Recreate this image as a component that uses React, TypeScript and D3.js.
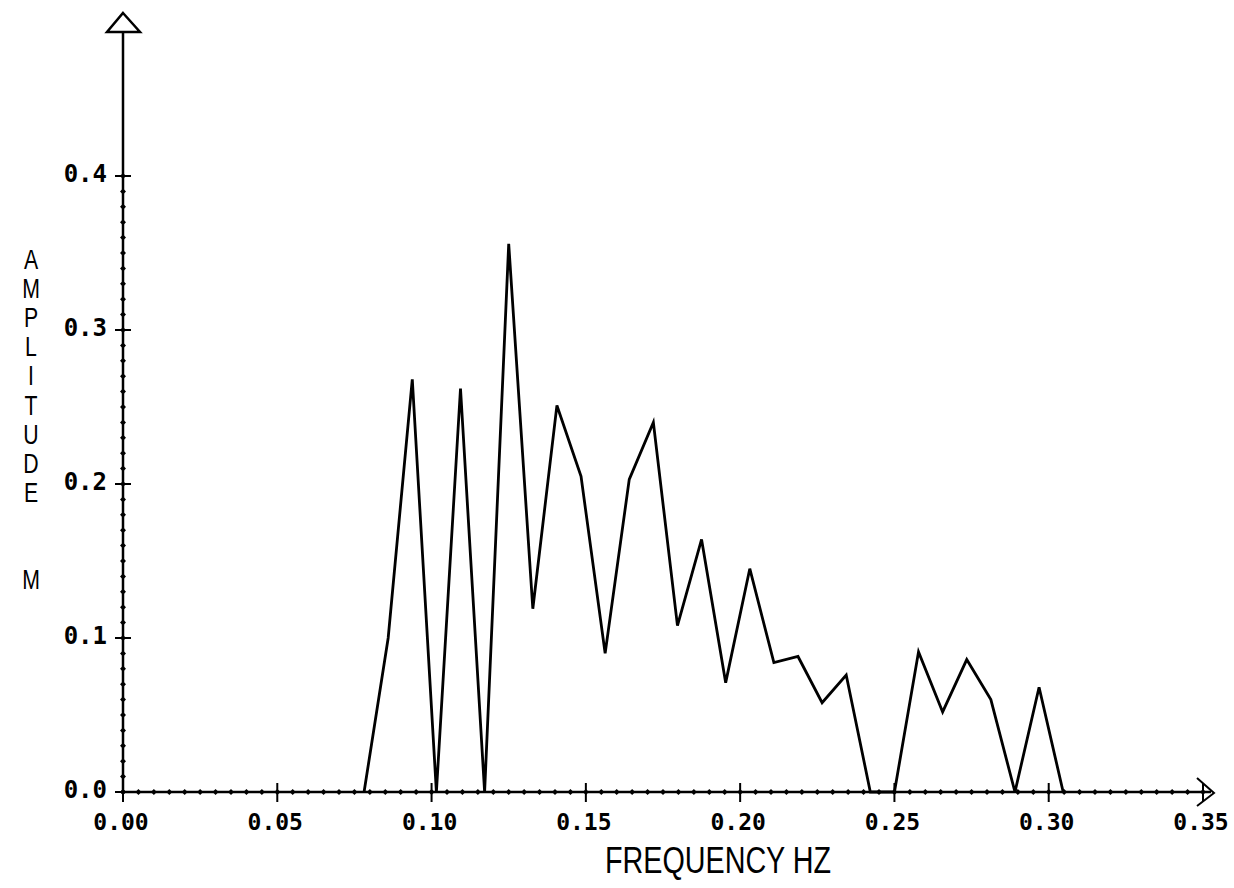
import React from "react";
import * as d3 from "d3";

// Spectrum bins: frequency resolution of 1/128 Hz, bins 10..39
const binIndex: number[] = [
  10, 11, 12, 13, 14, 15, 16, 17, 18, 19, 20, 21, 22, 23, 24,
  25, 26, 27, 28, 29, 30, 31, 32, 33, 34, 35, 36, 37, 38, 39,
];
const amplitude: number[] = [
  0.0, 0.1, 0.268, 0.0, 0.262, 0.0, 0.356, 0.119, 0.251, 0.205, 0.09, 0.203, 0.24, 0.108, 0.164,
  0.071, 0.145, 0.084, 0.088, 0.058, 0.076, 0.0, 0.0, 0.091, 0.052, 0.086, 0.06, 0.0, 0.068, 0.0,
];
const binWidthHz = 1 / 128;

const xMajorTicks: number[] = [0, 0.05, 0.1, 0.15, 0.2, 0.25, 0.3, 0.35];
const xTickLabels: string[] = ["0.00", "0.05", "0.10", "0.15", "0.20", "0.25", "0.30", "0.35"];
const yMajorTicks: number[] = [0, 0.1, 0.2, 0.3, 0.4];
const yTickLabels: string[] = ["0.0", "0.1", "0.2", "0.3", "0.4"];
const yTitle = "AMPLITUDE  M";

const W = 1234;
const H = 888;

export default function App() {
  const x = d3.scaleLinear().domain([0, 0.35]).range([123, 1203]);
  const y = d3.scaleLinear().domain([0, 0.4]).range([792, 176]);

  const pts: [number, number][] = binIndex.map((k, i) => [k * binWidthHz, amplitude[i]]);
  const line = d3
    .line<[number, number]>()
    .x((d) => x(d[0]))
    .y((d) => y(d[1]));

  const xMinor = d3.range(0, 71).map((i) => i * 0.005);
  const yMinor = d3.range(0, 41).map((i) => i * 0.01);

  const diamond = (cx: number, cy: number, r: number) =>
    `M${cx},${cy - r}L${cx + r},${cy}L${cx},${cy + r}L${cx - r},${cy}Z`;

  const x0 = x(0);
  const y0 = y(0);
  const yTop = y(0.5);
  const tickFont = "'DejaVu Sans Mono', monospace";

  return (
    <svg
      width={W}
      height={H}
      style={{ position: "absolute", left: 0, top: 0, background: "#fff" }}
    >
      <rect width={W} height={H} fill="#fff" />

      {/* axes */}
      <line x1={x0} y1={y0} x2={x(0.35) + 8} y2={y0} stroke="#000" strokeWidth={2.5} />
      <line x1={x0} y1={y0} x2={x0} y2={yTop + 8} stroke="#000" strokeWidth={2.5} />

      {/* arrow heads */}
      <path
        d={`M${x0},${13}L${x0 + 17},${32}L${x0 - 16},${32}Z`}
        fill="#fff"
        stroke="#000"
        strokeWidth={2.5}
      />
      <path
        d={`M${x(0.35) - 6},${y0 - 14}L${x(0.35) + 11},${y0 + 1}L${x(0.35) - 6},${y0 + 14}`}
        fill="none"
        stroke="#000"
        strokeWidth={2}
      />

      {/* minor ticks */}
      {xMinor.map((v, i) => (
        <path key={"xm" + i} d={diamond(x(v), y0, 3)} fill="#000" />
      ))}
      {yMinor.map((v, i) => (
        <path key={"ym" + i} d={diamond(x0, y(v), 3)} fill="#000" />
      ))}

      {/* major ticks */}
      {xMajorTicks.map((v, i) => (
        <line key={"xM" + i} x1={x(v)} x2={x(v)} y1={y0 - 9} y2={y0 + 10} stroke="#000" strokeWidth={2} />
      ))}
      {yMajorTicks.map((v, i) => (
        <line key={"yM" + i} x1={x0 - 8} x2={x0 + 8} y1={y(v)} y2={y(v)} stroke="#000" strokeWidth={2} />
      ))}

      {/* tick labels */}
      {xMajorTicks.map((v, i) => (
        <text
          key={"xl" + i}
          x={x(v) - 2}
          y={y0 + 38}
          textAnchor="middle"
          fontFamily={tickFont}
          fontWeight="bold"
          fontSize={23}
          fill="#000"
        >
          {xTickLabels[i]}
        </text>
      ))}
      {yMajorTicks.map((v, i) => (
        <text
          key={"yl" + i}
          x={x0 - 16}
          y={y(v) + 6}
          textAnchor="end"
          fontFamily={tickFont}
          fontWeight="bold"
          fontSize={24}
          fill="#000"
        >
          {yTickLabels[i]}
        </text>
      ))}

      {/* axis titles */}
      <text
        x={718}
        y={873}
        textAnchor="middle"
        fontFamily="'Liberation Sans', sans-serif"
        fontSize={36}
        textLength={226}
        lengthAdjust="spacingAndGlyphs"
        fill="#000"
      >
        FREQUENCY HZ
      </text>
      <text
        transform="translate(31,243) scale(0.76,1)"
        x={0}
        y={0}
        fontFamily="'Liberation Sans', sans-serif"
        fontSize={28}
        letterSpacing={-2.4}
        fill="#000"
        style={{ writingMode: "vertical-rl", textOrientation: "upright", whiteSpace: "pre" }}
      >
        {yTitle}
      </text>

      {/* spectrum */}
      <path d={line(pts) ?? ""} fill="none" stroke="#000" strokeWidth={2.8} strokeLinejoin="miter" />
    </svg>
  );
}
